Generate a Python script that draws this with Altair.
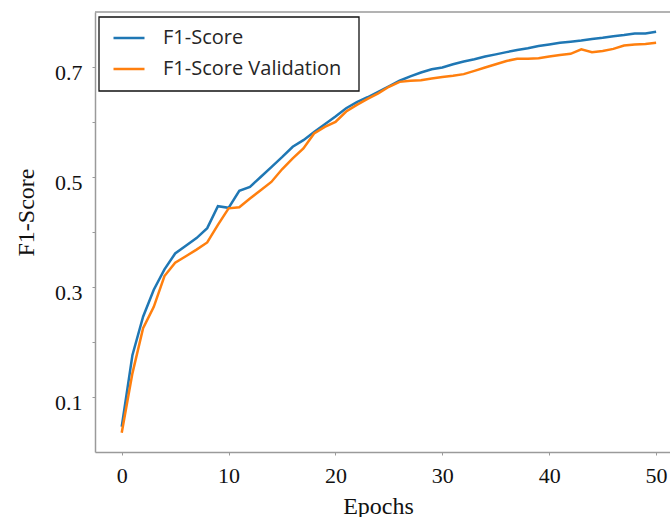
import altair as alt
import pandas as pd

# Training curves: F1 per epoch for the training and validation sets
epochs = list(range(51))
f1_train = [
    0.046, 0.176, 0.246, 0.295, 0.332, 0.361, 0.375, 0.389, 0.407, 0.447,
    0.444, 0.475, 0.482, 0.500, 0.518, 0.536, 0.555, 0.567, 0.582, 0.596,
    0.610, 0.625, 0.636, 0.645, 0.655, 0.665, 0.675, 0.683, 0.690, 0.696,
    0.699, 0.705, 0.710, 0.714, 0.719, 0.723, 0.727, 0.731, 0.734, 0.738,
    0.741, 0.744, 0.746, 0.748, 0.751, 0.753, 0.756, 0.758, 0.761, 0.761,
    0.764,
]
f1_val = [
    0.035, 0.143, 0.225, 0.264, 0.320, 0.344, 0.356, 0.368, 0.381, 0.413,
    0.443, 0.445, 0.461, 0.476, 0.491, 0.514, 0.534, 0.552, 0.579, 0.591,
    0.600, 0.619, 0.631, 0.642, 0.652, 0.664, 0.673, 0.675, 0.676, 0.679,
    0.682, 0.684, 0.687, 0.693, 0.699, 0.705, 0.711, 0.715, 0.715, 0.716,
    0.719, 0.722, 0.724, 0.732, 0.727, 0.729, 0.733, 0.739, 0.741, 0.742,
    0.744,
]
series_names = ["F1-Score", "F1-Score Validation"]
series_colors = ["#1f77b4", "#ff7f0e"]
x_ticks = [0, 10, 20, 30, 40, 50]
y_ticks = [0.1, 0.2, 0.3, 0.4, 0.5, 0.6, 0.7]
y_labelled = ["0.1", "0.3", "0.5", "0.7"]

df = pd.concat([
    pd.DataFrame({"epoch": epochs, "score": f1_train, "series": series_names[0]}),
    pd.DataFrame({"epoch": epochs, "score": f1_val, "series": series_names[1]}),
])

W, H = 575, 440
AXIS_GRAY = "#9a9a9a"
SERIF = "Liberation Serif"

lines = alt.Chart(df).mark_line(strokeWidth=2.5).encode(
    x=alt.X(
        "epoch:Q",
        scale=alt.Scale(domain=[-2.5, 51.3], nice=False, zero=False),
        axis=alt.Axis(
            values=x_ticks,
            title="Epochs",
            labelBaseline="alphabetic",
            labelPadding=27,
            titleX=283,
            titleY=61,
            titleBaseline="alphabetic",
            titleAlign="center",
        ),
    ),
    y=alt.Y(
        "score:Q",
        scale=alt.Scale(domain=[0, 0.8], nice=False),
        axis=alt.Axis(
            values=y_ticks,
            format=".1f",
            labelExpr="indexof(" + str(y_labelled) + ", datum.label) >= 0 ? datum.label : ''",
            labelBaseline="alphabetic",
            labelOffset=12,
            labelPadding=10,
            title="F1-Score",
            titleAngle=270,
            titleX=-62,
            titleY=200,
            titleBaseline="alphabetic",
            titleAlign="center",
        ),
    ),
    color=alt.Color(
        "series:N",
        scale=alt.Scale(domain=series_names, range=series_colors),
        sort=series_names,
        legend=alt.Legend(
            orient="none",
            legendX=17,
            legendY=9,
            title=None,
            symbolType="stroke",
            symbolSize=961,
            symbolStrokeWidth=2.5,
            labelFont="Open Sans",
            labelFontSize=20,
            labelColor="#262626",
            labelOffset=17,
            labelLimit=400,
            padding=0,
            rowPadding=4,
        ),
    ),
)

# framed box behind the legend entries
legend_frame = alt.Chart(alt.Data(values=[{}])).mark_rect(
    fill="white", stroke="#111111", strokeWidth=1.3
).encode(x=alt.value(4), x2=alt.value(264), y=alt.value(5), y2=alt.value(79))

# upper frame edge of the plot area
top_edge = alt.Chart(alt.Data(values=[{}])).mark_rule(
    color=AXIS_GRAY, strokeWidth=1.5
).encode(x=alt.value(0), x2=alt.value(W), y=alt.value(0))

chart = alt.layer(lines, legend_frame, top_edge).properties(
    width=W,
    height=H,
    autosize=alt.AutoSizeParams(type="none"),
    padding={"left": 95, "top": 12, "right": 0, "bottom": 65},
    background="white",
).configure_view(
    stroke=None
).configure_axis(
    grid=False,
    domainColor=AXIS_GRAY,
    domainWidth=1.5,
    tickColor=AXIS_GRAY,
    tickSize=3,
    labelFont=SERIF,
    labelFontSize=22,
    labelColor="#111111",
    titleFont=SERIF,
    titleFontSize=24,
    titleFontWeight="normal",
    titleColor="#111111",
)

chart.save("out.html", embed_options={"renderer": "svg", "actions": False})
